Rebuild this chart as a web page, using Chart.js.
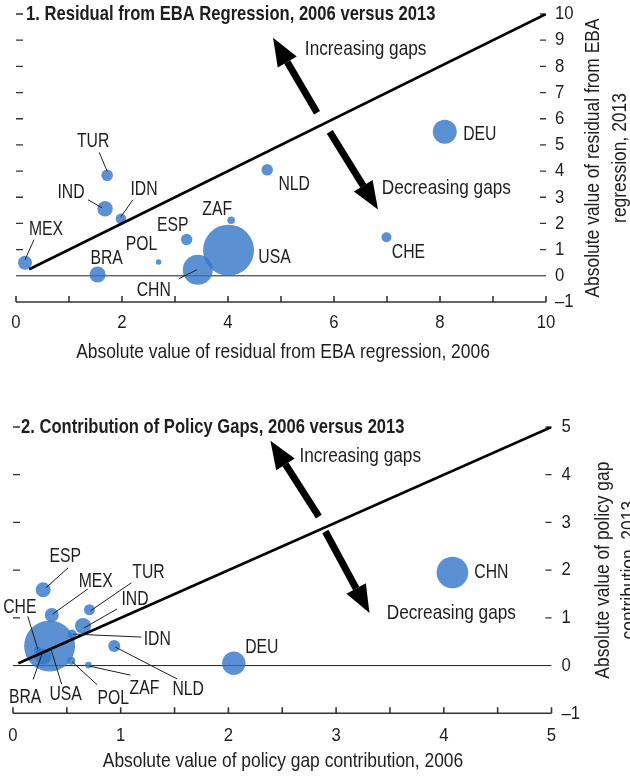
<!DOCTYPE html>
<html>
<head>
<meta charset="utf-8">
<script src="https://cdn.jsdelivr.net/npm/chart.js@4.4.1/dist/chart.umd.min.js"></script>
<style>
  body { margin: 0; background: #fff; width: 630px; height: 778px; overflow: hidden; position: relative; }
  canvas { position: absolute; left: 0; }
</style>
</head>
<body>
<canvas id="ebaChart" width="630" height="385" style="top:0"></canvas>
<canvas id="gapChart" width="630" height="393" style="top:385px"></canvas>
<script>
const countries = ['MEX', 'BRA', 'TUR', 'IND', 'IDN', 'POL', 'ESP', 'CHN', 'USA', 'ZAF', 'NLD', 'DEU', 'CHE'];

// panel 1: residual from EBA regression
const eba2006 = [0.17, 1.54, 1.72, 1.68, 1.98, 2.69, 3.22, 3.43, 4.01, 4.06, 4.74, 8.09, 6.99];
const eba2013 = [0.50, 0.05, 3.84, 2.56, 2.18, 0.53, 1.39, 0.23, 0.98, 2.12, 4.05, 5.50, 1.47];
const ebaSize = [7, 8, 5.8, 7.7, 5.3, 2.8, 5.7, 15, 25.5, 3.8, 5.8, 12, 5];
const ebaXTicks = [0, 2, 4, 6, 8, 10];
const ebaYTicks = [-1, 0, 1, 2, 3, 4, 5, 6, 7, 8, 9, 10];

// panel 2: contribution of policy gaps
const gap2006 = [0.36, 0.28, 0.71, 0.65, 0.55, 0.54, 0.28, 4.08, 0.34, 0.70, 0.94, 2.05, 0.23];
const gap2013 = [1.06, 0.19, 1.17, 0.83, 0.66, 0.10, 1.59, 1.95, 0.41, 0.01, 0.41, 0.05, 0.32];
const gapSize = [7, 8, 5.5, 8, 4.5, 4, 7.5, 15.8, 25.5, 3.3, 6, 11.7, 3.5];
const gapXTicks = [0, 1, 2, 3, 4, 5];
const gapYTicks = [-1, 0, 1, 2, 3, 4, 5];

// 45 degree line
const ebaDiag = [0.25, 10];
const gapDiag = [0.05, 5];

// label placement: text offset from bubble centre, optional leader line (px)
const ebaLabelPos = [
  [21, -34, [9, -23, 0, -3]], [9, -16], [-14, -34, [-8, -23, 0, -4]], [-34, -17, [-17, -9, -3, -1]],
  [23, -30, [12, -19, 0, -2]], [-17, -18], [-14, -14], [-44, 20, [-19, 9, -1, 0]], [46, 7],
  [-14, -11], [27, 14], [35, 2], [22, 15]
];
const gapLabelPos = [
  [44, -34, [36, -26, 1, -1]], [-18, 41, [-10, 23, -1, -3]], [59, -38, [42, -27, 1, 1]], [52, -27, [34, -17, 1, 2]],
  [85, 5, [69, 3, 1, 0]], [42, 37, [26, 24, 1, 1]], [22, -34, [25, -22, 3, -2]], [39, 0], [16, 48, [12, 38, 1, 2]],
  [56, 23, [42, 10, 1, 1]], [74, 43, [63, 33, 1, 1]], [28, -16], [-18, -43, [-10, -34, 0, -1]]
];

const FONT = "'Liberation Sans', Arial, sans-serif";
const INK = '#1e1e1e';
const BLUE = 'rgba(50,118,200,0.8)';

// the original uses a condensed face; squeeze Liberation Sans horizontally
function txt(ctx, s, x, y, font, sx, align) {
  ctx.save();
  ctx.font = font;
  ctx.textAlign = align || 'left';
  ctx.textBaseline = 'middle';
  ctx.translate(x, y);
  ctx.scale(sx, 1);
  ctx.fillText(s, 0, 0);
  ctx.restore();
}

const decoPlugin = {
  id: 'deco',
  beforeDatasetsDraw(chart, args, o) {
    const { ctx, chartArea: a, scales: { x, y } } = chart;
    ctx.save();
    ctx.strokeStyle = INK;
    ctx.lineWidth = 1;
    const y0 = y.getPixelForValue(0);
    ctx.beginPath();
    ctx.moveTo(a.left, y0);
    ctx.lineTo(a.right, y0);
    ctx.stroke();
    ctx.strokeStyle = '#333';
    ctx.lineWidth = 1.6;
    ctx.beginPath();
    ctx.moveTo(a.left, a.bottom);
    ctx.lineTo(a.right, a.bottom);
    x.ticks.forEach(t => {
      const px = x.getPixelForValue(t.value);
      ctx.moveTo(px, a.bottom);
      ctx.lineTo(px, a.bottom - 6);
    });
    ctx.stroke();
    ctx.lineWidth = 1.3;
    ctx.beginPath();
    y.ticks.forEach(t => {
      if (t.value <= 0) return;
      const py = y.getPixelForValue(t.value);
      ctx.moveTo(a.left, py);
      ctx.lineTo(a.left + 7, py);
      ctx.moveTo(a.right - 6, py);
      ctx.lineTo(a.right, py);
    });
    ctx.stroke();
    ctx.restore();

    // tick labels
    ctx.save();
    ctx.fillStyle = INK;
    const tf = '19px ' + FONT;
    o.xTicks.forEach(v => txt(ctx, String(v), x.getPixelForValue(v), a.bottom + o.xLabelDy, tf, 0.88, 'center'));
    o.yTicks.forEach(v => txt(ctx, v < 0 ? '\u2013' + Math.abs(v) : String(v), a.right + o.yLabelDx, y.getPixelForValue(v), tf, 0.88, 'left'));
    ctx.restore();
  },
  afterDatasetsDraw(chart, args, o) {
    const { ctx, chartArea: a, scales: { x, y } } = chart;
    ctx.save();
    ctx.fillStyle = INK;
    ctx.strokeStyle = INK;

    // country labels
    ctx.lineWidth = 1;
    o.names.forEach((name, i) => {
      const cx = x.getPixelForValue(o.xs[i]);
      const cy = y.getPixelForValue(o.ys[i]);
      const p = o.pos[i];
      if (p[2]) {
        ctx.beginPath();
        ctx.moveTo(cx + p[2][0], cy + p[2][1]);
        ctx.lineTo(cx + p[2][2], cy + p[2][3]);
        ctx.stroke();
      }
      txt(ctx, name, cx + p[0], cy + p[1], '21px ' + FONT, 0.75, 'center');
    });

    // arrows
    o.arrows.forEach(ar => {
      const x1 = x.getPixelForValue(ar[0]), y1 = y.getPixelForValue(ar[1]);
      const x2 = x.getPixelForValue(ar[2]), y2 = y.getPixelForValue(ar[3]);
      const ang = Math.atan2(y2 - y1, x2 - x1);
      const head = 28, half = 11;
      const bx = x2 - head * Math.cos(ang), by = y2 - head * Math.sin(ang);
      ctx.lineWidth = 7;
      ctx.strokeStyle = '#000';
      ctx.beginPath();
      ctx.moveTo(x1, y1);
      ctx.lineTo(bx, by);
      ctx.stroke();
      ctx.fillStyle = '#000';
      ctx.beginPath();
      ctx.moveTo(x2, y2);
      ctx.lineTo(bx + half * Math.sin(ang), by - half * Math.cos(ang));
      ctx.lineTo(bx - half * Math.sin(ang), by + half * Math.cos(ang));
      ctx.closePath();
      ctx.fill();
    });

    ctx.fillStyle = INK;
    o.notes.forEach(n => txt(ctx, n[0], x.getPixelForValue(n[1]), y.getPixelForValue(n[2]), '21px ' + FONT, 0.82, 'left'));

    // panel title
    txt(ctx, o.title, a.left + o.titleDx, y.getPixelForValue(y.max), 'bold 21px ' + FONT, 0.79, 'left');

    // x axis title
    txt(ctx, o.xTitle, o.xTitleX, a.bottom + o.xTitleDy, '21px ' + FONT, 0.83, 'center');

    // right axis title, two lines
    ctx.translate(0, (a.top + a.bottom) / 2);
    ctx.rotate(-Math.PI / 2);
    o.yTitle.forEach((line, i) => txt(ctx, line, 0, o.yTitleX[i], '21px ' + FONT, 0.83, 'center'));
    ctx.restore();
  }
};

function makePanel(id, opts) {
  const points = opts.xs.map((v, i) => ({ x: v, y: opts.ys[i], r: opts.size[i] }));
  return new Chart(document.getElementById(id), {
    data: {
      datasets: [
        {
          type: 'line',
          data: opts.diag.map(v => ({ x: v, y: v })),
          borderColor: '#000',
          borderWidth: 2.6,
          pointRadius: 0,
          order: 0
        },
        {
          type: 'bubble',
          data: points,
          backgroundColor: BLUE,
          borderWidth: 0,
          order: 1
        }
      ]
    },
    options: {
      responsive: false,
      animation: false,
      devicePixelRatio: 1,
      layout: { autoPadding: false, padding: { left: opts.left, top: opts.top, right: 0, bottom: 0 } },
      plugins: {
        legend: { display: false },
        tooltip: { enabled: false },
        deco: opts.deco
      },
      scales: {
        x: {
          type: 'linear',
          position: 'bottom',
          min: opts.xTicks[0],
          max: opts.xTicks[opts.xTicks.length - 1],
          grid: { display: false },
          border: { display: false },
          ticks: { display: false, stepSize: opts.xStep },
          afterFit: s => { s.height = opts.xHeight; }
        },
        y: {
          type: 'linear',
          position: 'right',
          min: opts.yTicks[0],
          max: opts.yTicks[opts.yTicks.length - 1],
          grid: { display: false },
          border: { display: false },
          ticks: { display: false, stepSize: 1 },
          afterFit: s => { s.width = opts.yWidth; }
        }
      }
    },
    plugins: [decoPlugin]
  });
}

makePanel('ebaChart', {
  xs: eba2006, ys: eba2013, size: ebaSize, diag: ebaDiag,
  xTicks: ebaXTicks, yTicks: ebaYTicks, xStep: 1,
  left: 16, top: 14, xHeight: 83, yWidth: 84,
  deco: {
    names: countries, xs: eba2006, ys: eba2013, pos: ebaLabelPos,
    xTicks: ebaXTicks, yTicks: ebaYTicks, xLabelDy: 21, yLabelDx: 9,
    arrows: [[5.68, 6.23, 4.85, 9.09], [5.92, 5.5, 6.83, 2.53]],
    notes: [['Increasing gaps', 5.45, 8.64], ['Decreasing gaps', 6.9, 3.36]],
    title: '1. Residual from EBA Regression, 2006 versus 2013', titleDx: 10,
    xTitle: 'Absolute value of residual from EBA regression, 2006', xTitleX: 283, xTitleDy: 50,
    yTitle: ['Absolute value of residual from EBA', 'regression, 2013'], yTitleX: [593, 620]
  }
});

makePanel('gapChart', {
  xs: gap2006, ys: gap2013, size: gapSize, diag: gapDiag,
  xTicks: gapXTicks, yTicks: gapYTicks, xStep: 0.5,
  left: 13, top: 42, xHeight: 64.7, yWidth: 78.5,
  deco: {
    names: countries, xs: gap2006, ys: gap2013, pos: gapLabelPos,
    xTicks: gapXTicks, yTicks: gapYTicks, xLabelDy: 22, yLabelDx: 10,
    arrows: [[2.84, 3.12, 2.39, 4.71], [2.90, 2.81, 3.31, 1.10]],
    notes: [['Increasing gaps', 2.66, 4.38], ['Decreasing gaps', 3.47, 1.10]],
    title: '2. Contribution of Policy Gaps, 2006 versus 2013', titleDx: 8,
    xTitle: 'Absolute value of policy gap contribution, 2006', xTitleX: 283, xTitleDy: 48,
    yTitle: ['Absolute value of policy gap', 'contribution, 2013'], yTitleX: [603, 629]
  }
});
</script>
</body>
</html>
